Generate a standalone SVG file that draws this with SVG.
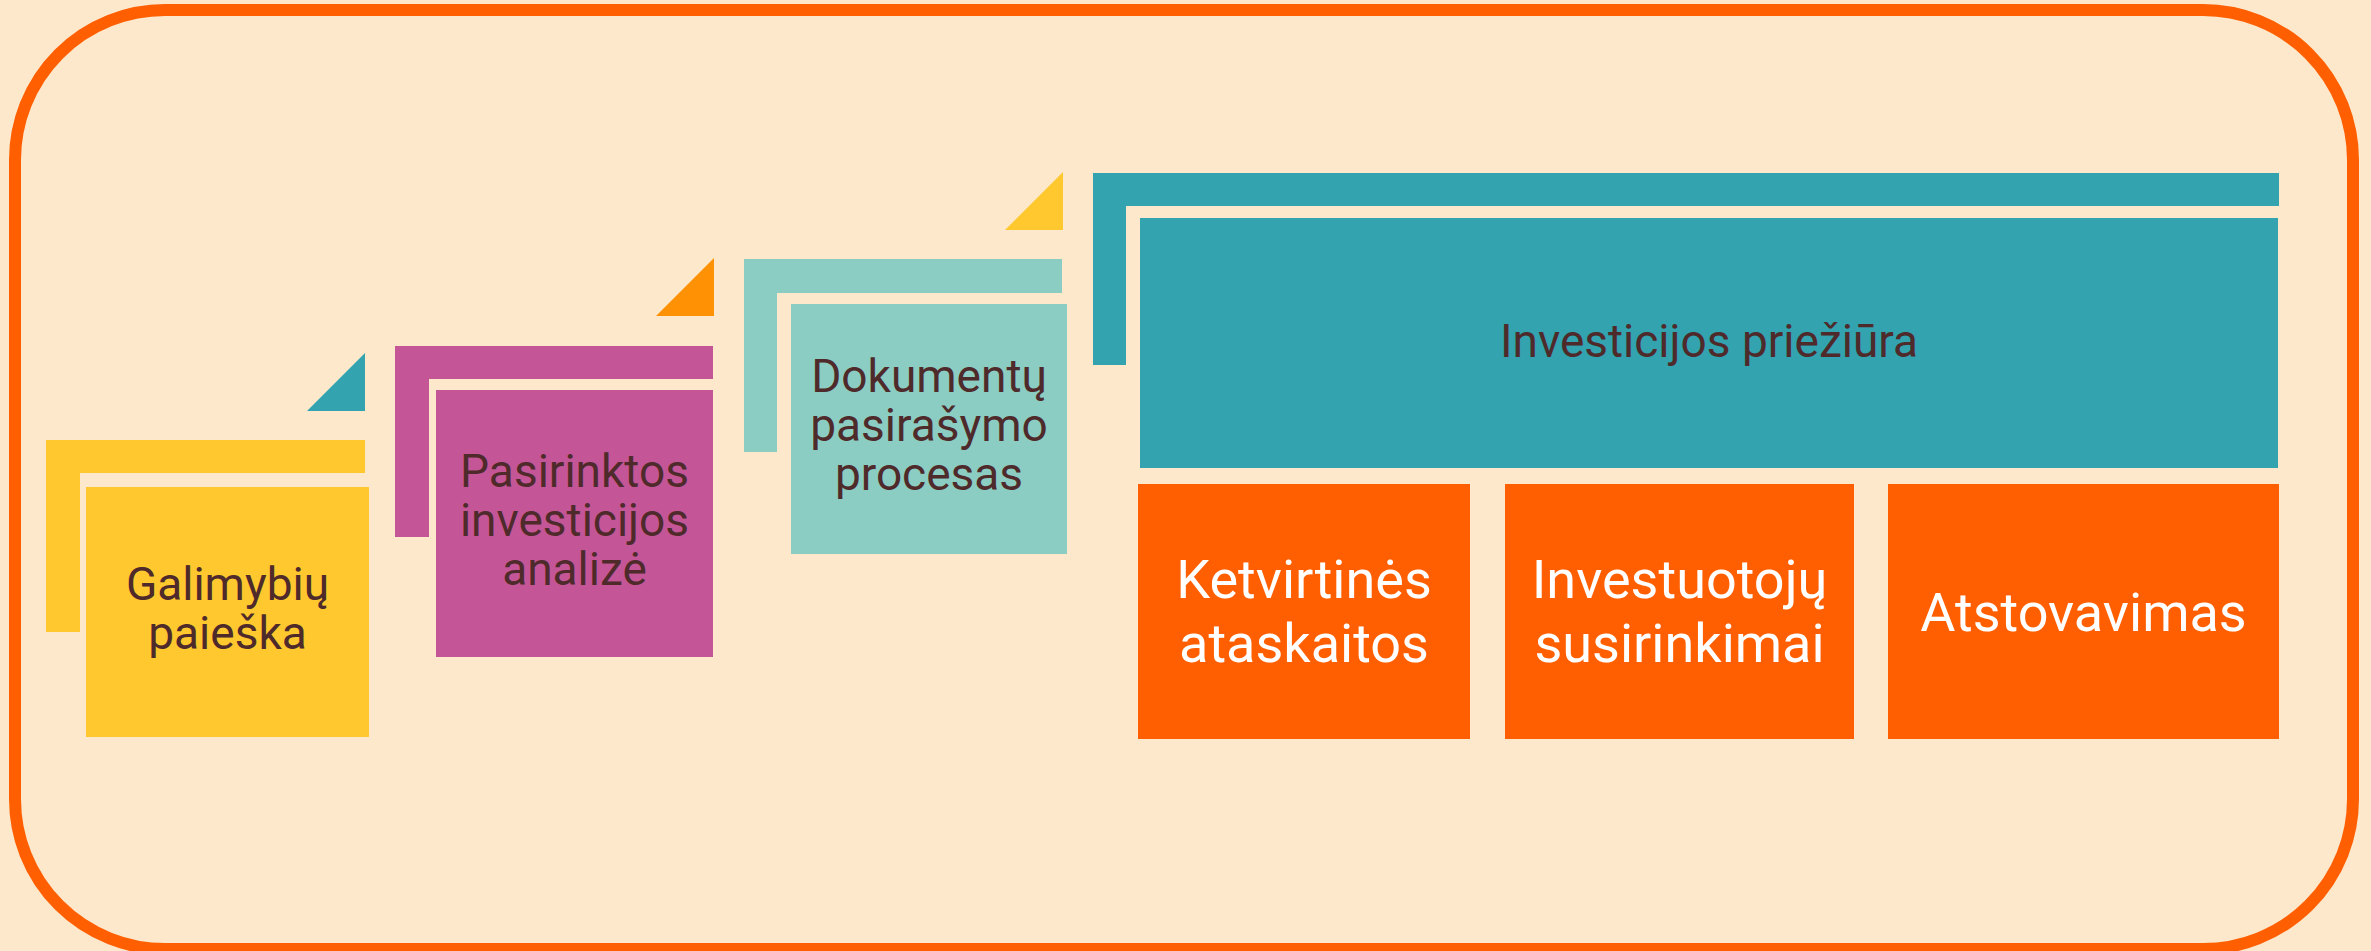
<svg xmlns="http://www.w3.org/2000/svg" width="2371" height="951" viewBox="0 0 2371 951">
<style>
.dk{font-family:Roboto,"Liberation Sans",sans-serif;font-size:46px;fill:#4F2A2B;text-anchor:middle}
.wt{font-family:Roboto,"Liberation Sans",sans-serif;font-size:54px;fill:#FFFFFF;text-anchor:middle}
.yel{fill:#FEC82E}
.mag{fill:#C45698}
.lt{fill:#8BCDC2}
.tl{fill:#32A3AF}
.or{fill:#FF5F00}
.or2{fill:#FF9105}
</style>
<rect x="0" y="0" width="2371" height="951" fill="#FEE8CC"/>
<rect id="frame" x="15" y="10" width="2338" height="939" rx="150" ry="150" fill="#FEE8CC" stroke="#FF5F00" stroke-width="12"/>
<g id="connectors"></g>
<g id="step1">
<path class="yel" d="M46,440 H365 V473 H80 V632 H46 Z"/>
<polygon class="tl" points="365,353 365,411 307,411"/>
<rect class="yel" x="86" y="487" width="283" height="250"/>
<text class="dk" x="227.5" y="600">Galimybių</text>
<text class="dk" x="227.5" y="649">paieška</text>
</g>
<g id="step2">
<path class="mag" d="M395,346 H713 V379 H429 V537 H395 Z"/>
<polygon class="or2" points="714,258 714,316 656,316"/>
<rect class="mag" x="436" y="390" width="277" height="267"/>
<text class="dk" x="574.5" y="487">Pasirinktos</text>
<text class="dk" x="574.5" y="536">investicijos</text>
<text class="dk" x="574.5" y="585">analizė</text>
</g>
<g id="step3">
<path class="lt" d="M744,259 H1062 V293 H777 V452 H744 Z"/>
<polygon class="yel" points="1063,172 1063,230 1005,230"/>
<rect class="lt" x="791" y="304" width="276" height="250"/>
<text class="dk" x="929" y="392">Dokumentų</text>
<text class="dk" x="929" y="441">pasirašymo</text>
<text class="dk" x="929" y="490">procesas</text>
</g>
<g id="step4">
<path class="tl" d="M1093,173 H2279 V206 H1126 V365 H1093 Z"/>
<rect class="tl" x="1140" y="218" width="1138" height="250"/>
<text class="dk" x="1709" y="357">Investicijos priežiūra</text>
</g>
<g id="sub1">
<rect class="or" x="1138" y="484" width="332" height="255"/>
<text class="wt" x="1304" y="598">Ketvirtinės</text>
<text class="wt" x="1304" y="662">ataskaitos</text>
</g>
<g id="sub2">
<rect class="or" x="1505" y="484" width="349" height="255"/>
<text class="wt" x="1679.5" y="598">Investuotojų</text>
<text class="wt" x="1679.5" y="662">susirinkimai</text>
</g>
<g id="sub3">
<rect class="or" x="1888" y="484" width="391" height="255"/>
<text class="wt" x="2083.5" y="631">Atstovavimas</text>
</g>
</svg>
